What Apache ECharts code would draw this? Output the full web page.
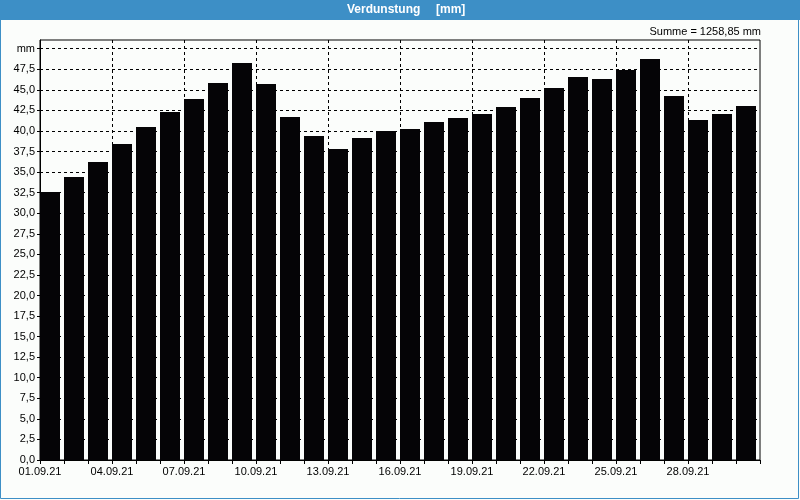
<!DOCTYPE html>
<html>
<head>
<meta charset="utf-8">
<script src="https://cdn.jsdelivr.net/npm/echarts@6/dist/echarts.min.js"></script>
<style>
html,body{margin:0;padding:0;background:#fbfdfb;}
#chart{width:800px;height:500px;}
</style>
</head>
<body>
<div id="chart"></div>
<script>
const days = ['01.09.21','02.09.21','03.09.21','04.09.21','05.09.21','06.09.21','07.09.21','08.09.21','09.09.21','10.09.21',
  '11.09.21','12.09.21','13.09.21','14.09.21','15.09.21','16.09.21','17.09.21','18.09.21','19.09.21','20.09.21',
  '21.09.21','22.09.21','23.09.21','24.09.21','25.09.21','26.09.21','27.09.21','28.09.21','29.09.21','30.09.21'];
const evaporation = [32.58,34.41,36.23,38.42,40.49,42.31,43.89,45.84,48.27,45.71,
  41.70,39.39,37.81,39.15,40.00,40.24,41.09,41.58,42.07,42.92,
  44.01,45.23,46.57,46.32,47.42,48.75,44.26,41.34,42.07,43.04];
const xTickLabels = ['01.09.21','04.09.21','07.09.21','10.09.21','13.09.21','16.09.21','19.09.21','22.09.21','25.09.21','28.09.21'];
const yTickLabels = ['0,0','2,5','5,0','7,5','10,0','12,5','15,0','17,5','20,0','22,5','25,0','27,5','30,0','32,5','35,0','37,5','40,0','42,5','45,0','47,5','mm'];
const titleMain = 'Verdunstung';
const titleUnit = '[mm]';
const sumText = 'Summe = 1258,85 mm';

const FONT = 'Liberation Sans, Arial, sans-serif';
const BLUE = '#3d8fc6';
const chart = echarts.init(document.getElementById('chart'), null, {renderer:'canvas'});
chart.setOption({
  animation: false,
  backgroundColor: '#fbfdfb',
  grid: {left: 40, right: 40, top: 40, bottom: 40, show: true, borderColor: '#000', borderWidth: 1, backgroundColor: 'transparent'},
  xAxis: [
    {
      type: 'category', data: days, boundaryGap: true, position: 'bottom',
      axisLine: {show: true, lineStyle: {color: '#000', width: 1}},
      axisTick: {show: true, interval: 0, length: 4, lineStyle: {color: '#000'}},
      axisLabel: {show: false},
      splitLine: {show: false}
    },
    {
      type: 'value', min: 0, max: 30, interval: 3, position: 'bottom',
      axisLine: {show: false}, axisTick: {show: false},
      axisLabel: {
        formatter: v => xTickLabels[Math.round(v / 3)] || '',
        margin: 6, color: '#000', fontFamily: FONT, fontSize: 11
      },
      splitLine: {show: true, showMinLine: false, showMaxLine: false, lineStyle: {color: '#000', width: 1, type: [3, 3]}}
    }
  ],
  yAxis: {
    type: 'value', min: 0, max: 51.06, interval: 2.5,
    axisLine: {show: true, lineStyle: {color: '#000'}},
    axisTick: {show: true, length: 3, lineStyle: {color: '#000'}},
    axisLabel: {
      formatter: v => { const i = Math.round(v / 2.5); return Math.abs(i * 2.5 - v) < 1e-6 ? (yTickLabels[i] || '') : ''; },
      margin: 5, color: '#000', fontFamily: FONT, fontSize: 11, showMaxLabel: false
    },
    splitLine: {show: true, showMinLine: false, showMaxLine: false, lineStyle: {color: '#000', width: 1, type: [3, 3]}}
  },
  series: [
    {type: 'bar', xAxisIndex: 0, data: evaporation, barWidth: 20, barGap: '0%', itemStyle: {color: '#050406'}},
    {type: 'bar', xAxisIndex: 0, data: [], barWidth: 4, barGap: '0%'}
  ],
  graphic: [
    {type: 'rect', shape: {x: 0, y: 0, width: 800, height: 20}, style: {fill: BLUE}, silent: true},
    {type: 'rect', shape: {x: 0.5, y: 0.5, width: 798, height: 498}, style: {fill: null, stroke: BLUE, lineWidth: 1}, silent: true},
    {type: 'text', x: 347, y: 10, style: {text: titleMain, fill: '#fff', font: 'bold 12px ' + FONT, textAlign: 'left', textVerticalAlign: 'middle'}},
    {type: 'text', x: 436, y: 10, style: {text: titleUnit, fill: '#fff', font: 'bold 12px ' + FONT, textAlign: 'left', textVerticalAlign: 'middle'}},
    {type: 'text', x: 761, y: 32, style: {text: sumText, fill: '#000', font: '11px ' + FONT, textAlign: 'right', textVerticalAlign: 'middle'}}
  ]
});
</script>
</body>
</html>
